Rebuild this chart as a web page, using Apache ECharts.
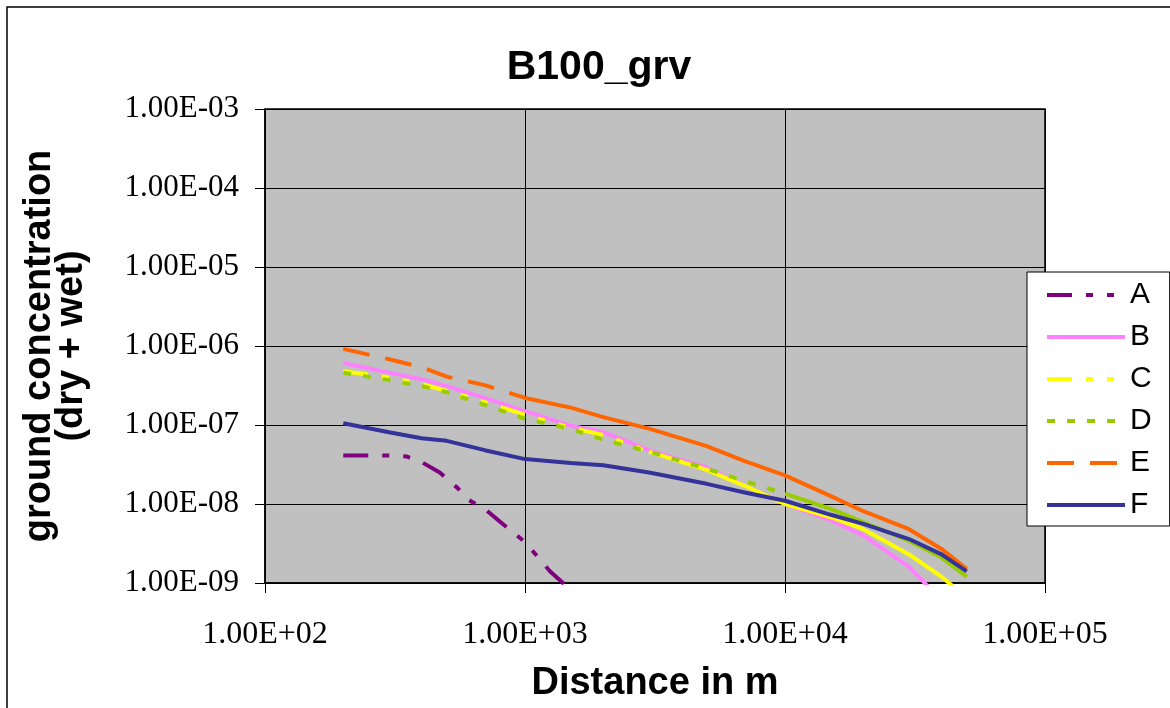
<!DOCTYPE html>
<html>
<head>
<meta charset="utf-8">
<script src="https://cdn.jsdelivr.net/npm/echarts@6/dist/echarts.min.js"></script>
<style>
html,body{margin:0;padding:0;background:#fff;}
#chart{width:1170px;height:708px;}
</style>
</head>
<body>
<div id="chart"></div>
<script>
// ---- data ----
const chartTitle = 'B100_grv';
const seriesNames = ['A', 'B', 'C', 'D', 'E', 'F'];
const distances = [200, 300, 400, 500, 700, 1000, 1500, 2000, 3000, 5000, 7000, 10000, 15000, 20000, 30000, 40000, 50000];
const valuesB = [6.1e-7, 4.6e-7, 3.8e-7, 3.1e-7, 2.2e-7, 1.5e-7, 9.8e-8, 8.1e-8, 4.8e-8, 2.9e-8, 1.7e-8, 1.0e-8, 6.2e-9, 4.0e-9, 1.6e-9, 6.0e-10, 3.0e-10];
const valuesC = [4.8e-7, 4.0e-7, 3.3e-7, 2.7e-7, 1.95e-7, 1.35e-7, 9.2e-8, 7.5e-8, 4.6e-8, 2.7e-8, 1.7e-8, 1.0e-8, 6.8e-9, 4.8e-9, 2.3e-9, 1.2e-9, 6.5e-10];
const valuesD = [4.6e-7, 3.7e-7, 3.1e-7, 2.6e-7, 1.8e-7, 1.2e-7, 8.9e-8, 6.5e-8, 4.6e-8, 2.8e-8, 1.95e-8, 1.35e-8, 8.7e-9, 5.9e-9, 3.4e-9, 2.1e-9, 1.2e-9];
const valuesE = [9.2e-7, 6.8e-7, 5.4e-7, 4.1e-7, 3.2e-7, 2.2e-7, 1.66e-7, 1.26e-7, 9.0e-8, 5.4e-8, 3.5e-8, 2.3e-8, 1.26e-8, 8.1e-9, 4.8e-9, 2.7e-9, 1.5e-9];
const valuesF = [1.05e-7, 8.1e-8, 6.8e-8, 6.3e-8, 4.8e-8, 3.7e-8, 3.3e-8, 3.1e-8, 2.5e-8, 1.8e-8, 1.4e-8, 1.1e-8, 7.3e-9, 5.6e-9, 3.6e-9, 2.3e-9, 1.4e-9];
const distancesA = [200, 300, 350, 400, 470, 550, 600, 700, 800, 1000, 1250, 1400, 1500];
const valuesA = [4.1e-8, 4.1e-8, 4.0e-8, 3.4e-8, 2.5e-8, 1.6e-8, 1.15e-8, 8.7e-9, 6.0e-9, 3.3e-9, 1.4e-9, 1.0e-9, 8.0e-10];
// distance beyond which the dense, noisy reference line no longer shows its dash pattern
const solidFrom = [Infinity, 0, 3000, 10000, 1000, 0];

const colors = ['#7F007F', '#FF80FF', '#FFFF00', '#99CC00', '#FF6600', '#333399'];
const dashes = [[25, 14, 7, 14, 7, 14], 'solid', [25, 14, 7, 14, 7, 14], [8, 12], [27, 16], 'solid'];

function pairs(xs, ys) { return xs.map((x, i) => [x, ys[i]]); }
const seriesData = [
  pairs(distancesA, valuesA),
  pairs(distances, valuesB),
  pairs(distances, valuesC),
  pairs(distances, valuesD),
  pairs(distances, valuesE),
  pairs(distances, valuesF)
];

function sci(v) {
  const e = Math.round(Math.log10(v));
  const m = v / Math.pow(10, e);
  const sign = e < 0 ? '-' : '+';
  const ae = Math.abs(e);
  return m.toFixed(2) + 'E' + sign + (ae < 10 ? '0' : '') + ae;
}

const series = [];
seriesNames.forEach((name, i) => {
  const data = seriesData[i];
  const cut = solidFrom[i];
  const dashedPart = data.filter(p => p[0] <= cut);
  const solidPart = data.filter(p => p[0] >= cut);
  const base = {
    name: name, type: 'line', symbol: 'none', showSymbol: false, clip: true,
    itemStyle: {color: colors[i]}
  };
  if (dashedPart.length > 1 || solidPart.length <= 1) {
    series.push(Object.assign({}, base, {
      data: dashedPart,
      lineStyle: {color: colors[i], width: 4, type: dashes[i]}
    }));
  }
  if (solidPart.length > 1) {
    series.push(Object.assign({}, base, {
      data: solidPart,
      lineStyle: {color: colors[i], width: 4, type: 'solid'}
    }));
  }
});

const chart = echarts.init(document.getElementById('chart'), null, {renderer: 'canvas'});
const option = {
  backgroundColor: '#ffffff',
  animation: false,
  title: {
    text: chartTitle,
    left: 594, top: 42, textAlign: 'center',
    textStyle: {fontFamily: 'Liberation Sans', fontWeight: 'bold', fontSize: 41, color: '#000'}
  },
  graphic: [{
    type: 'rect', x: 0, y: 0, silent: true,
    shape: {x: 7, y: 7, width: 1175, height: 715},
    style: {fill: 'none', stroke: '#000', lineWidth: 1.5}
  }],
  grid: {
    left: 265, top: 109, right: 125, bottom: 124,
    show: true, backgroundColor: '#C0C0C0', borderColor: '#000', borderWidth: 1.5
  },
  legend: {
    orient: 'vertical', left: 1027, top: 272,
    backgroundColor: '#fff', borderColor: '#000', borderWidth: 1,
    padding: [8, 18, 6, 18],
    itemWidth: 78, itemHeight: 14, itemGap: 12,
    itemStyle: {opacity: 0},
    lineStyle: {width: 4},
    textStyle: {fontFamily: 'Liberation Sans', fontSize: 30, lineHeight: 30, color: '#000'},
    data: seriesNames
  },
  xAxis: {
    type: 'log', logBase: 10, min: 100, max: 100000,
    name: 'Distance in m', nameLocation: 'middle', nameGap: 82,
    nameTextStyle: {fontFamily: 'Liberation Sans', fontWeight: 'bold', fontSize: 38, color: '#000'},
    axisLine: {show: true, lineStyle: {color: '#000', width: 1.5}},
    axisTick: {show: true, inside: false, length: 10, lineStyle: {color: '#000'}},
    minorTick: {show: false},
    axisLabel: {
      margin: 36, color: '#000', fontFamily: 'Liberation Serif', fontSize: 32,
      formatter: function (v) { return sci(v); }
    },
    splitLine: {show: true, lineStyle: {color: '#000', width: 1}}
  },
  yAxis: {
    type: 'log', logBase: 10, min: 1e-9, max: 1e-3,
    name: 'ground concentration\n(dry + wet)', nameLocation: 'middle', nameGap: 177,
    nameTextStyle: {fontFamily: 'Liberation Sans', fontWeight: 'bold', fontSize: 38, lineHeight: 32, color: '#000', align: 'center'},
    axisLine: {show: true, lineStyle: {color: '#000', width: 1.5}},
    axisTick: {show: true, inside: false, length: 10, lineStyle: {color: '#000'}},
    minorTick: {show: false},
    axisLabel: {
      margin: 26, color: '#000', fontFamily: 'Liberation Serif', fontSize: 31,
      formatter: function (v) { return sci(v); }
    },
    splitLine: {show: true, lineStyle: {color: '#000', width: 1}}
  },
  series: series
};
chart.setOption(option);
</script>
</body>
</html>
